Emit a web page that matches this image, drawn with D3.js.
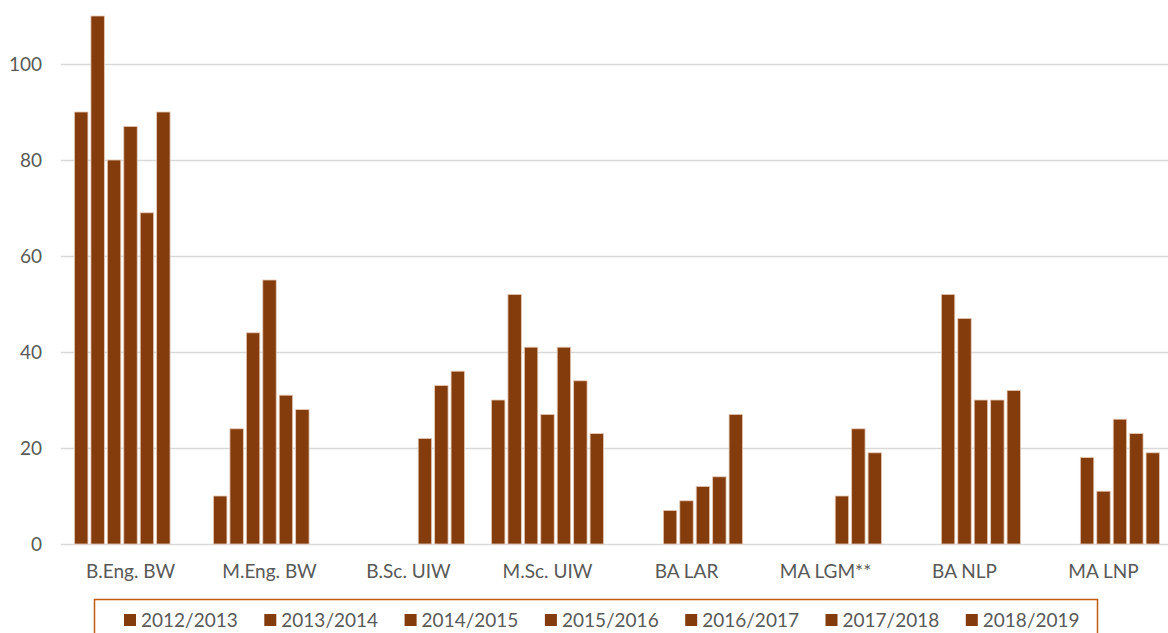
<!DOCTYPE html>
<html>
<head>
<meta charset="utf-8">
<script src="https://cdn.jsdelivr.net/npm/d3@7"></script>
<style>
  html, body { margin: 0; padding: 0; background: #fff; overflow: hidden; }
  svg { display: block; font-family: Lato, "Open Sans", sans-serif; }
</style>
</head>
<body>
<svg id="chart" width="1168" height="633"></svg>
<script>
// Programmes (x categories)
const categories = ["B.Eng. BW", "M.Eng. BW", "B.Sc. UIW", "M.Sc. UIW", "BA LAR", "MA LGM**", "BA NLP", "MA LNP"];
// Academic years (series)
const years = ["2012/2013", "2013/2014", "2014/2015", "2015/2016", "2016/2017", "2017/2018", "2018/2019"];
// One value per programme for each year; null = no intake that year
const y2012 = [90, 10, null, 30, null, null, null, null];
const y2013 = [110, 24, null, 52, null, null, null, null];
const y2014 = [80, 44, null, 41, 7, null, 52, 18];
const y2015 = [87, 55, null, 27, 9, null, 47, 11];
const y2016 = [69, 31, 22, 41, 12, 10, 30, 26];
const y2017 = [90, 28, 33, 34, 14, 24, 30, 23];
const y2018 = [null, null, 36, 23, 27, 19, 32, 19];
const yTicks = [0, 20, 40, 60, 80, 100];

const seriesValues = [y2012, y2013, y2014, y2015, y2016, y2017, y2018];

const W = 1168, H = 633;
const BAR = "#843C0C", TEXT = "#595959", GRID = "#d9d9d9", LEGEND_BORDER = "#C55A11";

const svg = d3.select("#chart");

const x0 = d3.scaleBand().domain(categories).range([61, 1173]).padding(0);
const x1 = d3.scaleBand().domain(years).range([12, x0.bandwidth() - 12]).padding(0);
const y = d3.scaleLinear().domain([0, 110]).range([544, 16]);

// Horizontal gridlines
const yAxis = d3.axisLeft(y).tickValues(yTicks).tickSize(-(W - 61)).tickFormat(d3.format("d"));
const gy = svg.append("g").attr("transform", "translate(61,0)").call(yAxis);
gy.select(".domain").remove();
gy.selectAll(".tick line").attr("stroke", GRID).attr("stroke-width", 1.5);
gy.selectAll(".tick text")
  .attr("x", -19)
  .attr("fill", TEXT)
  .style("font-size", "19px")
  .style("font-family", "Lato, 'Open Sans', sans-serif");

// Bars
const rows = [];
categories.forEach((c, ci) => {
  years.forEach((yr, si) => {
    const v = seriesValues[si][ci];
    if (v != null) rows.push({ c, yr, v });
  });
});

svg.append("g").selectAll("rect").data(rows).join("rect")
  .attr("x", d => x0(d.c) + x1(d.yr) + 1.5)
  .attr("width", x1.bandwidth() - 3)
  .attr("y", d => y(d.v))
  .attr("height", d => y(0) - y(d.v))
  .attr("fill", BAR)
  .attr("stroke", "#e6c9b8")
  .attr("stroke-width", 0.8);

// Category axis labels
const xAxis = d3.axisBottom(x0).tickSize(0).tickPadding(0);
const gx = svg.append("g").attr("transform", "translate(0,544)").call(xAxis);
gx.select(".domain").remove();
gx.selectAll(".tick text")
  .attr("y", 34)
  .attr("dy", 0)
  .attr("fill", TEXT)
  .style("font-size", "19px")
  .style("font-family", "Lato, 'Open Sans', sans-serif");

// Legend
const legend = svg.append("g");
legend.append("rect")
  .attr("x", 94.5).attr("y", 599.5)
  .attr("width", 1003).attr("height", 60)
  .attr("fill", "none")
  .attr("stroke", LEGEND_BORDER)
  .attr("stroke-width", 1.5);

const lx = d3.scalePoint().domain(years).range([124, 124 + 140.3 * 6]);
const items = legend.selectAll("g.item").data(years).join("g")
  .attr("class", "item")
  .attr("transform", d => `translate(${lx(d)},0)`);
items.append("rect")
  .attr("x", 0).attr("y", 614)
  .attr("width", 12).attr("height", 12)
  .attr("fill", BAR);
items.append("text")
  .attr("x", 17).attr("y", 627)
  .attr("fill", TEXT)
  .style("font-size", "19px")
  .text(d => d);
</script>
</body>
</html>
